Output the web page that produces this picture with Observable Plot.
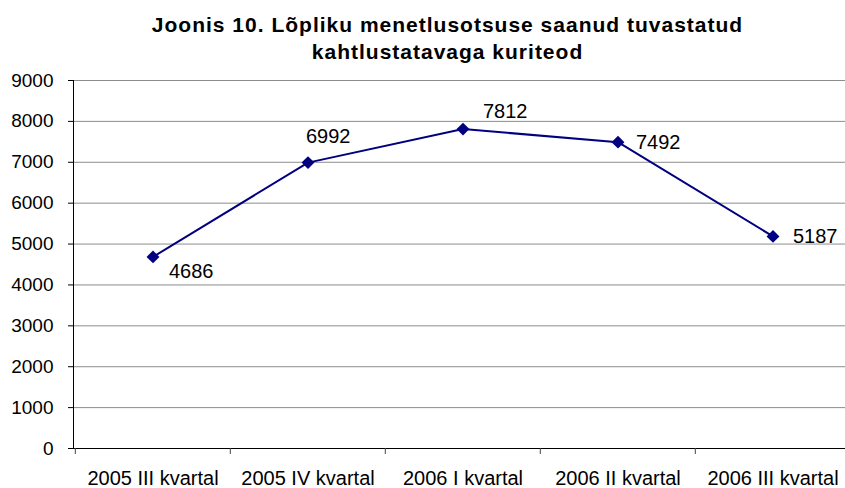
<!DOCTYPE html>
<html>
<head>
<meta charset="utf-8">
<script src="https://cdn.jsdelivr.net/npm/d3@7"></script>
<script src="https://cdn.jsdelivr.net/npm/@observablehq/plot@0.6"></script>
<style>
  html, body { margin: 0; padding: 0; background: #fff; }
  #wrap { width: 845px; height: 488px; overflow: hidden; font-family: "Liberation Sans", Arial, sans-serif; }
  #title { box-sizing: border-box; height: 65px; padding-top: 11px; padding-left: 50px; text-align: center;
           font-weight: bold; font-size: 21px; line-height: 27px; letter-spacing: 1px; color: #000; }
</style>
</head>
<body>
<div id="wrap">
  <div id="title">Joonis 10. Lõpliku menetlusotsuse saanud tuvastatud<br>kahtlustatavaga kuriteod</div>
  <div id="chart"></div>
</div>
<script>
const categories = ["2005 III kvartal", "2005 IV kvartal", "2006 I kvartal", "2006 II kvartal", "2006 III kvartal"];
const values = [4686, 6992, 7812, 7492, 5187];
const yTicks = [0, 1000, 2000, 3000, 4000, 5000, 6000, 7000, 8000, 9000];

const data = categories.map((c, i) => ({category: c, value: values[i]}));

const xRange = [74, 851];
const bw = (xRange[1] - xRange[0]) / categories.length;
const navy = "#000080";

// label placements (Excel-style data label positions)
const placements = [
  {dx: 16, dy: 15},
  {dx: -2, dy: -26},
  {dx: 20, dy: -17},
  {dx: 18, dy: 0},
  {dx: 20, dy: 0}
];

const chart = Plot.plot({
  width: 845,
  height: 423,
  marginTop: 15,
  marginBottom: 40,
  marginLeft: 73,
  marginRight: 0,
  style: {fontFamily: "'Liberation Sans', Arial, sans-serif", fontSize: "19px", color: "#000", background: "#fff", overflow: "visible"},
  x: {type: "band", domain: categories, range: xRange, padding: 0, label: null},
  y: {domain: [0, 9000], label: null},
  marks: [
    Plot.gridY(yTicks, {stroke: "#8c8c8c", strokeOpacity: 1}),
    Plot.frame({anchor: "left", stroke: "#000"}),
    Plot.frame({anchor: "bottom", stroke: "#000"}),
    Plot.axisY(yTicks, {tickSize: 5, tickPadding: 15, fontSize: 19, stroke: "#000", label: null, tickFormat: d => String(d)}),
    Plot.axisX({tickSize: 6, tickFormat: () => "", dx: -bw / 2, stroke: "#444", label: null}),
    Plot.axisX({tickSize: 0, tickPadding: 22, fontSize: 20, label: null}),
    Plot.line(data, {x: "category", y: "value", stroke: navy, strokeWidth: 2}),
    Plot.dot(data, {x: "category", y: "value", symbol: "diamond2", r: 5.8, fill: navy, stroke: "none"}),
    ...placements.map((p, i) => Plot.text([data[i]], {
      x: "category", y: "value", text: d => String(d.value),
      textAnchor: "start", dx: p.dx, dy: p.dy, fontSize: 20, fill: "#000"
    }))
  ]
});
document.getElementById("chart").appendChild(chart);
</script>
</body>
</html>
